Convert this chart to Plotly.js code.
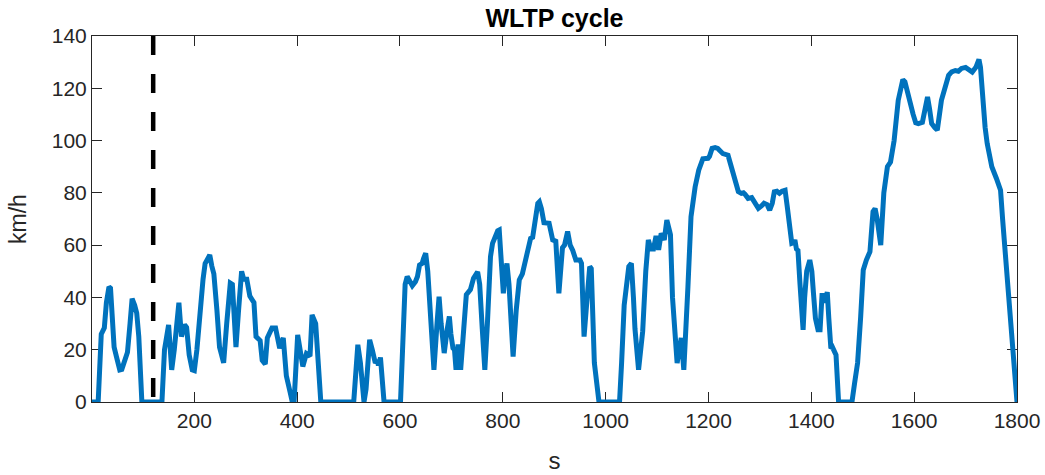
<!DOCTYPE html>
<html>
<head>
<meta charset="utf-8">
<script src="https://cdn.plot.ly/plotly-3.0.1.min.js"></script>
<style>html,body{margin:0;padding:0;background:#fff;}#chart{width:1045px;height:475px;}</style>
</head>
<body>
<div id="chart"></div>
<script>
// WLTP speed trace (time in s, speed in km/h)
const timeS = [1,13,19,25,29,34,37,40,44,49,55,59,66,70,75,79,84,88,92,98,
137,142,150,156,161,165,170,175,181,185,190,196,200,205,212,217,221,226,230,234,238,244,249,253,257,263,270,274,277,281,286,292,296,302,308,316,320,328,332,338,342,351,358,366,373,379,386,390,394,401,411,418,425,429,436,446,
510,518,523,530,534,541,546,552,556,558,562,569,601,606,610,614,620,624,630,634,638,643,646,650,654,659,666,672,676,680,686,692,696,699,703,706,709,713,718,724,729,737,743,751,755,760,765,770,776,780,785,790,793,797,801,805,808,812,820,826,832,838,842,848,854,858,864,868,871,875,880,890,897,903,909,916,920,926,931,936,942,950,953,958,962,969,972,978,987,
1027,1031,1036,1045,1050,1054,1057,1064,1069,1072,1078,1083,1088,1093,1098,1103,1108,1111,1114,1119,1122,1126,1130,1135,1139,1143,1147,1152,1157,1160,1166,1174,1181,1189,1199,1202,1207,1213,1218,1223,1228,1238,1244,1258,1264,1268,1271,1277,1284,1290,1297,1303,1308,1314,1319,1324,1328,1333,1338,1343,1349,1353,1358,1362,1366,1368,1371,1374,1378,1384,1387,1391,1397,1401,1404,1408,1413,1417,1421,1425,1428,1431,1434,1438,1441,1444,1448,1453,
1479,1484,1490,1496,1501,1507,1514,1520,1524,1528,1535,1541,1548,1554,1561,1569,1574,1578,1582,1586,1592,1598,1603,1608,1616,1621,1626,1630,1634,1640,1645,1653,1661,1667,1673,1680,1686,1692,1700,1707,1713,1720,1726,1729,1733,1738,1742,1751,1760,1768,1772,1776,1781,1787,1794,1800];
const speedKmh = [0,0,26,28.4,38,44,43.5,35,21,17,12.3,12.5,17,19,30,39.5,37,34,25,0,
0,20,29.5,12.3,20,28,38,25,29.6,28.5,18,12.3,12,20,38,47,53,55,56.2,52,49,35,21,18,15,30,45.5,45,35,21,35,50,47,47,40.5,38,25,23.5,16,14.5,24.5,28.3,28.3,20.6,24.5,10,4,0.5,0,25.7,13.6,18.5,17.5,33.3,30,0,
0,21.9,15,0,5,23.8,20,14.9,16,14,17,0,0,25,45,48,45.5,44.5,46,48,52.4,53,55,56.9,50,34,12.3,30,40.3,30,18.7,28,32.7,26,20.6,20,12.3,22,12.3,28,41,43,47.3,49.8,45,28,12.3,30,55.6,60.7,63.5,65.5,65.8,55,41.6,50,53,45,17.4,35,46.7,49,52.4,57.5,62.6,63,72.2,76,76.6,74,68.6,68.4,62,61.5,41.6,59,60,65.2,60,58,54.3,54.3,53,25,35,51.8,51,15,0,
0,15,37,51.8,53,40,28,12.3,23.8,27,50,62,58.5,58.5,63.5,58.2,64.5,63,62,69.6,67,64,40,25,14.9,20,24.5,12.3,30,44,70.9,82.3,88.7,93,93.2,94,97,97.3,97,96,95,94.4,90,80.5,79.8,80,79.5,77.9,78.2,76,74.1,75,76,75.5,73.4,76,80.4,80.6,79.8,80.6,81,75,65,60.7,61,62,58.5,58,45,27.6,40,50,54.3,50,42,32,27.6,27.6,41.6,38,40,42,32,20.5,21,19.5,18,0,
0,7,15,32.7,50.5,54.3,57.5,72.8,74,70,60,80,90,91.8,100,115.4,121,123.3,122.5,119,115.4,110,106.8,106.5,107,112,116.7,112,106.5,105,104,115.4,121.5,125,126.3,126.8,126.5,127.6,128,127,126.2,128,131,128,116.7,105,98.9,90,85.5,81,70,60,45,30.2,12,0];

// vertical marker line
const markerX = [120, 120];
const markerY = [140, 0];

// axis ticks
const xTicks = [200, 400, 600, 800, 1000, 1200, 1400, 1600, 1800];
const yTicks = [0, 20, 40, 60, 80, 100, 120, 140];

const axisCol = '#262626';
const fontFam = '"Liberation Sans", Arial, Helvetica, sans-serif';

const traces = [
  {x: timeS, y: speedKmh, type: 'scatter', mode: 'lines',
   line: {color: '#0072BD', width: 5}, cliponaxis: false, hoverinfo: 'skip', showlegend: false},
  {x: markerX, y: markerY, type: 'scatter', mode: 'lines',
   line: {color: '#000000', width: 4.5, dash: '19px,19px'}, cliponaxis: false, hoverinfo: 'skip', showlegend: false}
];

const axisCommon = {
  showgrid: false, zeroline: false, showline: true, linecolor: axisCol, linewidth: 1,
  mirror: 'ticks', ticks: 'inside', ticklen: 10, tickwidth: 1, tickcolor: axisCol,
  tickfont: {family: fontFam, size: 21, color: axisCol}, layer: 'below traces'
};

const layout = {
  width: 1045, height: 475,
  margin: {l: 92, r: 28, t: 36, b: 73},
  paper_bgcolor: '#ffffff', plot_bgcolor: '#ffffff',
  font: {family: fontFam, color: axisCol},
  title: {text: '<b>WLTP cycle</b>', font: {family: fontFam, size: 25, color: '#000000'},
          x: 0.5, xref: 'paper', xanchor: 'center', y: 1 - 18/475, yref: 'container', yanchor: 'middle'},
  xaxis: Object.assign({}, axisCommon, {range: [1, 1800], tickmode: 'array', tickvals: xTicks,
          ticktext: xTicks.map(String),
          title: {text: 's', font: {family: fontFam, size: 24, color: axisCol}, standoff: 20}}),
  yaxis: Object.assign({}, axisCommon, {range: [0, 140], tickmode: 'array', tickvals: yTicks,
          ticktext: yTicks.map(String),
          title: {text: 'km/h', font: {family: fontFam, size: 23, color: axisCol}, standoff: 18}})
};

Plotly.newPlot('chart', traces, layout, {staticPlot: true, displayModeBar: false});
</script>
</body>
</html>
